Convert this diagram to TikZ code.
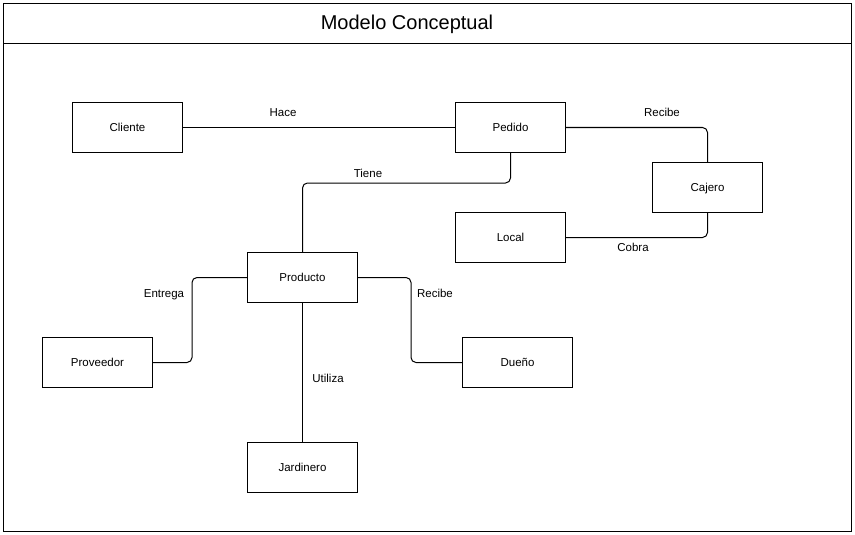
\documentclass[tikz,border=0pt]{standalone}
\usepackage{fontspec}
\setmainfont{Liberation Sans}
\usetikzlibrary{positioning}

\begin{document}
\begin{tikzpicture}[x=1pt, y=-1pt, line width=1pt,
    entity/.style={rectangle, draw, minimum width=110pt, minimum height=50pt, inner sep=0pt, text height=9.5pt, text depth=1.5pt, font=\fontsize{11.5}{14}\selectfont},
    rel/.style={font=\fontsize{11.5}{14}\selectfont, inner sep=0pt, text height=9.5pt, text depth=1.5pt},
    link/.style={rounded corners=5pt}]
    \useasboundingbox (0,0) rectangle (855,535);
    \draw (3.5,3.5) rectangle (851.5,531.5);
    \draw (3.5,43.5) -- (851.5,43.5);
    \node[font=\fontsize{20}{24}\selectfont] (title) at (407,24) {Modelo Conceptual};

    \node[entity] (cliente) at (127.5,127.5) {Cliente};
    \node[entity] (pedido) at (510.5,127.5) {Pedido};
    \node[entity] (cajero) at (707.5,187.5) {Cajero};
    \node[entity] (local) at (510.5,237.5) {Local};
    \node[entity] (producto) at (302.5,277.5) {Producto};
    \node[entity] (proveedor) at (97.5,362.5) {Proveedor};
    \node[entity] (dueno) at (517.5,362.5) {Dueño};
    \node[entity] (jardinero) at (302.5,467.5) {Jardinero};

    \node[rel] (hace) at (283,113) {Hace};
    \node[rel] (recibeCaj) at (662,113) {Recibe};
    \node[rel] (cobra) at (633,247) {Cobra};
    \node[rel] (tiene) at (368,173) {Tiene};
    \node[rel] (entrega) at (164,293) {Entrega};
    \node[rel] (recibeDue) at (435,293) {Recibe};
    \node[rel] (utiliza) at (328,378) {Utiliza};

    \draw (cliente) -- (pedido);
    \draw[link] (pedido.east) -| (cajero.north);
    \draw[link] (cajero.south) |- (local.east);
    \draw[link] (pedido.south) -- ++(0,30) -| (producto.north);
    \draw[link] (producto.west) -- ++(-55,0) |- (proveedor.east);
    \draw[link] (producto.east) -- ++(53,0) |- (dueno.west);
    \draw (producto) -- (jardinero);
\end{tikzpicture}
\end{document}
